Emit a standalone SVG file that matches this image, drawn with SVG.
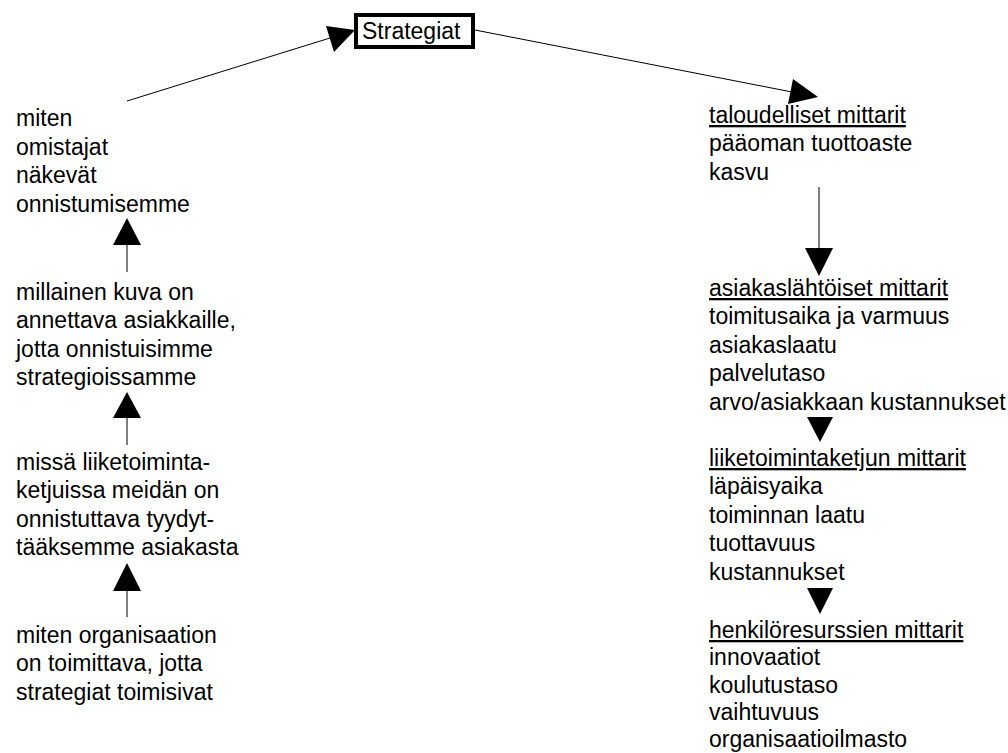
<svg xmlns="http://www.w3.org/2000/svg" width="1008" height="753" viewBox="0 0 1008 753">
  <style>
    .t { font-family: "Liberation Sans", Arial, sans-serif; font-size: 23px; fill: #000; }
    .u { text-decoration: underline; }
    .ln { stroke: #000; stroke-width: 1; fill: none; }
    .hd { fill: #000; stroke: none; }
  </style>
  <rect width="1008" height="753" fill="#fff"/>

  <!-- central box -->
  <g id="strategiat">
    <rect x="356" y="15" width="117" height="32" fill="#fff" stroke="#000" stroke-width="4"/>
    <text class="t" x="362" y="39">Strategiat</text>
  </g>

  <!-- left column: questions -->
  <g id="omistajat">
    <text class="t" x="16" y="126">miten</text>
    <text class="t" x="16" y="155">omistajat</text>
    <text class="t" x="16" y="183">näkevät</text>
    <text class="t" x="16" y="212">onnistumisemme</text>
  </g>
  <g id="asiakkaat">
    <text class="t" x="16" y="300">millainen kuva on</text>
    <text class="t" x="16" y="328">annettava asiakkaille,</text>
    <text class="t" x="16" y="357">jotta onnistuisimme</text>
    <text class="t" x="16" y="385">strategioissamme</text>
  </g>
  <g id="liiketoimintaketjut">
    <text class="t" x="16" y="470">missä liiketoiminta-</text>
    <text class="t" x="16" y="498">ketjuissa meidän on</text>
    <text class="t" x="16" y="527">onnistuttava tyydyt-</text>
    <text class="t" x="16" y="555">tääksemme asiakasta</text>
  </g>
  <g id="organisaatio">
    <text class="t" x="16" y="643">miten organisaation</text>
    <text class="t" x="16" y="671">on toimittava, jotta</text>
    <text class="t" x="16" y="700">strategiat toimisivat</text>
  </g>

  <!-- right column: measures -->
  <g id="taloudelliset">
    <text class="t u" x="709" y="123">taloudelliset mittarit</text>
    <text class="t" x="709" y="151">pääoman tuottoaste</text>
    <text class="t" x="709" y="180">kasvu</text>
  </g>
  <g id="asiakaslahtoiset">
    <text class="t u" x="709" y="296">asiakaslähtöiset mittarit</text>
    <text class="t" x="709" y="324">toimitusaika ja varmuus</text>
    <text class="t" x="709" y="353">asiakaslaatu</text>
    <text class="t" x="709" y="381">palvelutaso</text>
    <text class="t" x="709" y="410">arvo/asiakkaan kustannukset</text>
  </g>
  <g id="liiketoimintaketjun">
    <text class="t u" x="709" y="466">liiketoimintaketjun mittarit</text>
    <text class="t" x="709" y="494">läpäisyaika</text>
    <text class="t" x="709" y="523">toiminnan laatu</text>
    <text class="t" x="709" y="551">tuottavuus</text>
    <text class="t" x="709" y="580">kustannukset</text>
  </g>
  <g id="henkiloresurssit">
    <text class="t u" x="709" y="638">henkilöresurssien mittarit</text>
    <text class="t" x="709" y="665">innovaatiot</text>
    <text class="t" x="709" y="693">koulutustaso</text>
    <text class="t" x="709" y="720">vaihtuvuus</text>
    <text class="t" x="709" y="747">organisaatioilmasto</text>
  </g>

  <!-- connectors -->
  <g id="connectors">
    <!-- owners view up to strategies -->
    <line class="ln" x1="127" y1="101" x2="330" y2="38"/>
    <polygon class="hd" points="355,30 326,26 334,52"/>
    <!-- strategies to financial measures -->
    <line class="ln" x1="475" y1="30" x2="792" y2="92"/>
    <polygon class="hd" points="818,97 793,79 788,104"/>
    <!-- financial down to customer measures -->
    <line class="ln" x1="819" y1="187" x2="819" y2="248"/>
    <polygon class="hd" points="805,248 833,248 819,276"/>
    <!-- customer to business chain -->
    <polygon class="hd" points="807,417 833,417 820,442"/>
    <!-- business chain to personnel -->
    <polygon class="hd" points="807,588 833,588 820,614"/>
    <!-- left column upward arrows -->
    <line class="ln" x1="127" y1="245" x2="127" y2="272"/>
    <polygon class="hd" points="127,218 113,245 141,245"/>
    <line class="ln" x1="127" y1="418" x2="127" y2="445"/>
    <polygon class="hd" points="127,392 113,418 141,418"/>
    <line class="ln" x1="127" y1="591" x2="127" y2="617"/>
    <polygon class="hd" points="127,563 113,591 141,591"/>
  </g>
</svg>
